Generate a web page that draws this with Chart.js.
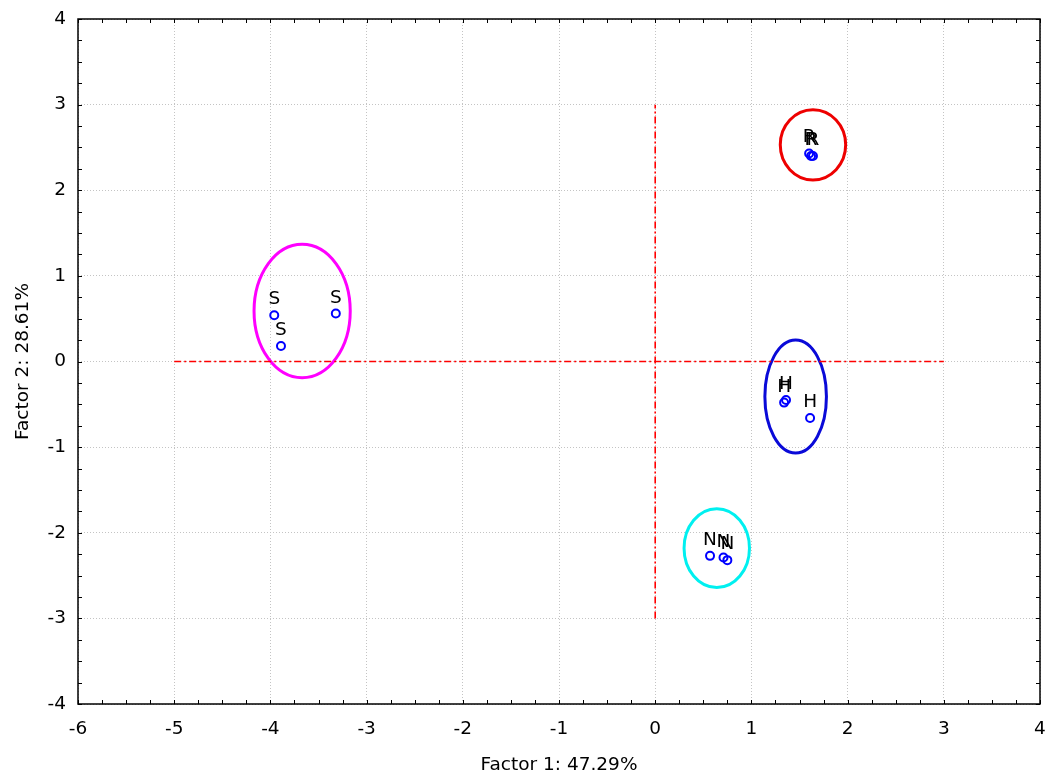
<!DOCTYPE html>
<html>
<head>
<meta charset="utf-8">
<script src="https://cdn.jsdelivr.net/npm/chart.js@4"></script>
<style>
  html, body { margin: 0; padding: 0; background: #fff; }
  #wrap { width: 1046px; height: 776px; }
</style>
</head>
<body>
<div id="wrap"><canvas id="chart"></canvas></div>
<script>
// scores of the samples on factor 1 / factor 2
const sampleLabels = ["S", "S", "S", "R", "R", "R", "H", "H", "H", "N", "N", "N"];
const factor1 = [-3.96, -3.89, -3.32, 1.60, 1.62, 1.64, 1.34, 1.36, 1.61, 0.57, 0.71, 0.75];
const factor2 = [0.54, 0.18, 0.56, 2.43, 2.40, 2.40, -0.48, -0.45, -0.66, -2.27, -2.29, -2.32];

// group ellipses: centre, half-width, half-height, colour
const groupX = [-3.67, 1.64, 1.46, 0.64];
const groupY = [0.59, 2.53, -0.41, -2.18];
const groupRx = [0.50, 0.34, 0.32, 0.34];
const groupRy = [0.78, 0.41, 0.66, 0.46];
const groupColors = ["#ff00ff", "#ee0000", "#0a0ad8", "#00f0f0"];

// red dashed reference lines
const hLineX = [-5, 3];
const vLineY = [-3, 3];

const xMin = -6, xMax = 4, yMin = -4, yMax = 4;
const minorStep = 0.25;
const font = "DejaVu Sans, sans-serif";
const fontSize = 18.5;

const points = factor1.map((x, i) => ({x: x, y: factor2[i]}));

const decorPlugin = {
	id: "decor",
	beforeDatasetsDraw(chart) {
		const {ctx, scales: {x, y}} = chart;
		ctx.save();
		groupX.forEach((cx, i) => {
			const px = x.getPixelForValue(cx);
			const py = y.getPixelForValue(groupY[i]);
			const rx = Math.abs(x.getPixelForValue(cx + groupRx[i]) - px);
			const ry = Math.abs(y.getPixelForValue(groupY[i] + groupRy[i]) - py);
			ctx.beginPath();
			ctx.ellipse(px, py, rx, ry, 0, 0, Math.PI * 2);
			ctx.lineWidth = 3;
			ctx.strokeStyle = groupColors[i];
			ctx.stroke();
		});
		ctx.restore();
	},
	afterDatasetsDraw(chart) {
		const {ctx, chartArea: a, scales: {x, y}} = chart;
		ctx.save();
		// point labels
		ctx.fillStyle = "#000";
		ctx.font = fontSize + "px " + font;
		ctx.textAlign = "center";
		ctx.textBaseline = "alphabetic";
		points.forEach((p, i) => {
			ctx.fillText(sampleLabels[i], x.getPixelForValue(p.x), y.getPixelForValue(p.y) - 11);
		});
		// frame
		ctx.strokeStyle = "#000";
		ctx.lineWidth = 1.5;
		ctx.strokeRect(a.left, a.top, a.right - a.left, a.bottom - a.top);
		// inward ticks
		ctx.lineWidth = 1;
		ctx.beginPath();
		for (let v = xMin; v <= xMax + 1e-9; v += minorStep) {
			const px = Math.round(x.getPixelForValue(v)) + 0.5;
			ctx.moveTo(px, a.bottom); ctx.lineTo(px, a.bottom - 4);
			ctx.moveTo(px, a.top); ctx.lineTo(px, a.top + 4);
		}
		for (let v = yMin; v <= yMax + 1e-9; v += minorStep) {
			const py = Math.round(y.getPixelForValue(v)) + 0.5;
			ctx.moveTo(a.left, py); ctx.lineTo(a.left + 4, py);
			ctx.moveTo(a.right, py); ctx.lineTo(a.right - 4, py);
		}
		ctx.stroke();
		ctx.restore();
	}
};

const gridOpts = {
	color: "#c4c4c4",
	lineWidth: 1,
	drawTicks: false
};

const refLine = {
	type: "line",
	borderColor: "#ff0000",
	borderWidth: 1.6,
	borderDash: [7, 3, 2, 3],
	pointRadius: 0,
	fill: false
};

new Chart(document.getElementById("chart").getContext("2d"), {
	type: "scatter",
	data: {
		datasets: [
			Object.assign({data: hLineX.map(v => ({x: v, y: 0}))}, refLine),
			Object.assign({data: vLineY.map(v => ({x: 0, y: v}))}, refLine),
			{
				data: points,
				pointRadius: 4,
				pointBorderWidth: 2,
				pointBorderColor: "#0000ff",
				pointBackgroundColor: "rgba(255,255,255,0)"
			}
		]
	},
	options: {
		responsive: true,
		maintainAspectRatio: false,
		animation: false,
		layout: { padding: { top: 19, right: 6, left: 0, bottom: 0 } },
		plugins: { legend: { display: false }, tooltip: { enabled: false } },
		scales: {
			x: {
				type: "linear",
				min: xMin, max: xMax,
				afterFit: s => { s.height = 72; s.paddingLeft = 0; s.paddingRight = 0; },
				grid: gridOpts,
				border: { display: false, dash: [1, 2] },
				ticks: { stepSize: 1, padding: 14, color: "#000", font: { family: font, size: fontSize } },
				title: { display: true, text: "Factor 1: 47.29%", color: "#000", padding: { top: 0, bottom: 0 }, font: { family: font, size: fontSize } }
			},
			y: {
				type: "linear",
				min: yMin, max: yMax,
				afterFit: s => { s.width = 78; s.paddingTop = 0; s.paddingBottom = 0; },
				grid: gridOpts,
				border: { display: false, dash: [1, 2] },
				ticks: { stepSize: 1, padding: 12, color: "#000", font: { family: font, size: fontSize } },
				title: { display: true, text: "Factor 2: 28.61%", color: "#000", padding: { top: 12, bottom: 0 }, font: { family: font, size: fontSize } }
			}
		}
	},
	plugins: [decorPlugin]
});
</script>
</body>
</html>
